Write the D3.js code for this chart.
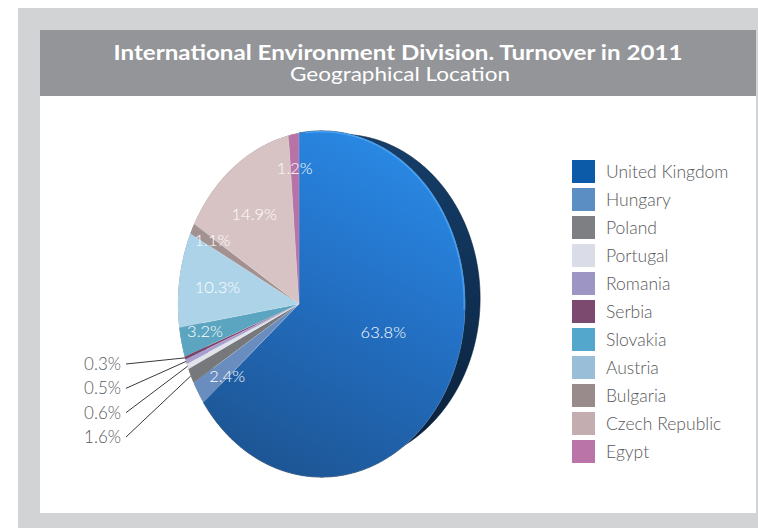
<!DOCTYPE html>
<html>
<head>
<meta charset="utf-8">
<script src="https://cdn.jsdelivr.net/npm/d3@7"></script>
<style>
  html, body { margin: 0; padding: 0; background: #ffffff; }
  svg { display: block; }
  text { font-family: Lato, "Open Sans", sans-serif; }
</style>
</head>
<body>
<div id="chart"></div>
<script>
// ---- data ----
const categories = ["United Kingdom", "Hungary", "Poland", "Portugal", "Romania", "Serbia",
                    "Slovakia", "Austria", "Bulgaria", "Czech Republic", "Egypt"];
const values = [63.8, 2.4, 1.6, 0.6, 0.5, 0.3, 3.2, 10.3, 1.1, 14.9, 1.2];
const legendColors = ["#0b5ba8", "#5b8fc4", "#7e7f83", "#dadde7", "#9d95c3", "#7c4a6f",
                      "#53a6cc", "#99bfd8", "#998a8b", "#c4adb0", "#ba74a7"];
const faceColors = ["url(#ukGrad)", "#6a8dbf", "#77787c", "#e1e3eb", "#a79ed0", "#7e3d63",
                    "#5ba5c1", "#acd3e7", "#a39192", "#d7c3c3", "#b873a6"];
const title = "International Environment Division. Turnover in 2011";
const subtitle = "Geographical Location";
const outsideLabels = ["Serbia", "Romania", "Portugal", "Poland"]; // labelled outside with leader lines

// ---- layout ----
const W = 758, H = 528;
const svg = d3.select("#chart").append("svg").attr("width", W).attr("height", H);

const defs = svg.append("defs");
const ukGrad = defs.append("linearGradient").attr("id", "ukGrad")
  .attr("x1", "0.7").attr("y1", "0").attr("x2", "0.3").attr("y2", "1");
ukGrad.append("stop").attr("offset", "0").attr("stop-color", "#2a8ae6");
ukGrad.append("stop").attr("offset", "0.45").attr("stop-color", "#2370c4");
ukGrad.append("stop").attr("offset", "1").attr("stop-color", "#1d5594");
const sideGrad = defs.append("linearGradient").attr("id", "sideGrad")
  .attr("x1", "0").attr("y1", "0").attr("x2", "0").attr("y2", "1");
sideGrad.append("stop").attr("offset", "0").attr("stop-color", "#163f6a");
sideGrad.append("stop").attr("offset", "0.5").attr("stop-color", "#0f2f52");
sideGrad.append("stop").attr("offset", "1").attr("stop-color", "#0a1e36");

// frame
svg.append("rect").attr("x", 18).attr("y", 8).attr("width", 740).attr("height", 520).attr("fill", "#d1d3d4");
svg.append("rect").attr("x", 40).attr("y", 30).attr("width", 716).attr("height", 483).attr("fill", "#ffffff");
svg.append("rect").attr("x", 40).attr("y", 30).attr("width", 716).attr("height", 66).attr("fill", "#939598");

svg.append("text").attr("x", 398).attr("y", 60).attr("text-anchor", "middle")
  .attr("fill", "#fff").attr("font-weight", 700).attr("font-size", 20)
  .attr("textLength", 569).attr("lengthAdjust", "spacingAndGlyphs").text(title);
svg.append("text").attr("x", 400).attr("y", 81).attr("text-anchor", "middle")
  .attr("fill", "#fff").attr("font-weight", 400).attr("font-size", 19)
  .attr("textLength", 220).attr("lengthAdjust", "spacingAndGlyphs").text(subtitle);

// ---- 3D perspective pie ----
const CX = 299, CY = 304;          // projected centre of the pie face
const R = 0.2737;                  // disk radius (viewer distance = 1)
const PHI = 35 * Math.PI / 180;    // rotation about the vertical axis
const FOCAL = 171 / R;
const DEPTH = 0.06;                // thickness of the disk
const LIFT = 0.008;                // slight upward shift of the back face
function project(a, r, h) {
  const u = R * r * Math.sin(a), v = -R * r * Math.cos(a) - (h > 0 ? LIFT : 0);
  const x = u * Math.cos(PHI) + h * Math.sin(PHI);
  const z = 1 - u * Math.sin(PHI) + h * Math.cos(PHI);
  return [CX + FOCAL * x / z, CY + FOCAL * v / z];
}
function arcPoints(a0, a1, r, h) {
  const n = Math.max(2, Math.ceil(Math.abs(a1 - a0) / (Math.PI / 360)));
  return d3.range(n + 1).map(i => project(a0 + (a1 - a0) * i / n, r, h));
}

const pie = d3.pie().sort(null).value(d => d.value).startAngle(0).endAngle(2 * Math.PI);
const data = categories.map((c, i) => ({ name: c, value: values[i], i }));
const arcs = pie(data);
const line = d3.line();

const gPie = svg.append("g");
// side walls
gPie.selectAll("path.side").data(arcs).join("path").attr("class", "side")
  .attr("d", d => line(arcPoints(d.startAngle, d.endAngle, 1, 0)
      .concat(arcPoints(d.endAngle, d.startAngle, 1, DEPTH))) + "Z")
  .attr("fill", d => d.index === 0 ? "url(#sideGrad)" : d3.color(legendColors[d.index]).darker(1.2))
  .attr("stroke", d => d.index === 0 ? "#0b2440" : "none").attr("stroke-width", 0.6);
// faces
gPie.selectAll("path.face").data(arcs).join("path").attr("class", "face")
  .attr("d", d => line([[CX, CY]].concat(arcPoints(d.startAngle, d.endAngle, 1, 0))) + "Z")
  .attr("fill", d => faceColors[d.index])
  .attr("stroke", "rgba(255,255,255,0.25)").attr("stroke-width", 0.5);
// highlight rim on top edge of the big slice
gPie.append("path")
  .attr("d", line(arcPoints(arcs[0].startAngle + 0.05, arcs[0].startAngle + 1.6, 0.995, 0)))
  .attr("fill", "none").attr("stroke", "#4aa6f7").attr("stroke-width", 1.4).attr("opacity", 0.8);

// inside labels
const labelPlace = { // radius fraction and angular shift for label anchors
  "United Kingdom": [0.57, -0.17], "Austria": [0.65, 0], "Czech Republic": [0.65, 0],
  "Hungary": [0.72, -0.06], "Slovakia": [0.77, 0.03], "Bulgaria": [0.8, 0.02]
};
const fmt = v => d3.format(".1f")(v) + "%";
arcs.filter(d => !outsideLabels.includes(d.data.name)).forEach(d => {
  const p = labelPlace[d.data.name] || [0.8, 0];
  const mid = (d.startAngle + d.endAngle) / 2 + p[1];
  const [x, y] = project(mid, p[0], 0);
  svg.append("text").attr("x", x).attr("y", y + 6).attr("text-anchor", "middle")
    .attr("fill", "#fff").attr("font-size", 16.5).attr("font-weight", 300)
    .text(fmt(d.data.value));
});

// outside labels with leader lines
const labelY = d3.scalePoint().domain(outsideLabels).range([364, 437]);
outsideLabels.forEach(name => {
  const d = arcs.find(a => a.data.name === name);
  const mid = (d.startAngle + d.endAngle) / 2;
  const [ex, ey] = project(mid, 1.0, 0);
  const y = labelY(name);
  svg.append("line").attr("x1", 126).attr("y1", y).attr("x2", ex).attr("y2", ey)
    .attr("stroke", "#3a3a3a").attr("stroke-width", 1);
  svg.append("text").attr("x", 121).attr("y", y + 6).attr("text-anchor", "end")
    .attr("fill", "#595a5c").attr("font-size", 17).attr("font-weight", 300)
    .text(fmt(d.data.value));
});

// legend
const ly = d3.scaleBand().domain(categories).range([160, 468]).paddingInner(0);
const lg = svg.append("g");
categories.forEach((c, i) => {
  lg.append("rect").attr("x", 572).attr("y", ly(c)).attr("width", 23).attr("height", 23)
    .attr("fill", legendColors[i]);
  lg.append("text").attr("x", 606).attr("y", ly(c) + 18)
    .attr("fill", "#58595b").attr("font-size", 17.5).attr("font-weight", 300).text(c);
});
</script>
</body>
</html>
